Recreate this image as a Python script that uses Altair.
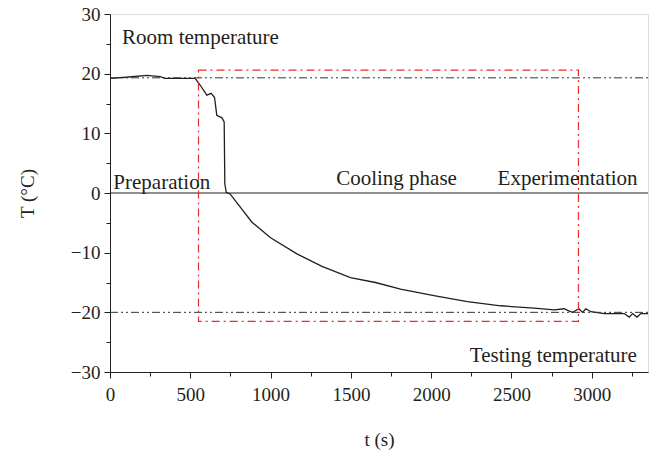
import altair as alt
import pandas as pd

# temperature curve
t_vals = [0, 100, 230, 280, 312, 343, 450, 530, 561, 603, 630, 651, 665, 697, 711, 715, 724,
          749, 884, 1000, 1164, 1320, 1497, 1653, 1809, 2017, 2225, 2433, 2641, 2765, 2828,
          2860, 2880, 2920, 2942, 2963, 2994, 3077, 3202, 3233, 3254, 3281, 3306, 3350]
T_vals = [19.2, 19.4, 19.7, 19.6, 19.5, 19.2, 19.2, 19.2, 18.1, 16.4, 16.7, 16.0, 13.0, 12.6, 11.9, 1.5, 0.1,
          -0.2, -4.9, -7.5, -10.2, -12.3, -14.2, -15.0, -16.1, -17.2, -18.2, -18.9, -19.3, -19.6, -19.4,
          -19.8, -20.0, -19.4, -20.0, -19.4, -19.9, -20.2, -20.2, -20.8, -20.2, -20.8, -20.2, -20.2]

ref_levels = [19.3, -20.0]          # room / testing temperature lines
box_t = [551, 2917]                 # red dash-dot box extent
box_T = [-21.5, 20.6]

labels = ["Room temperature", "Preparation", "Cooling phase", "Experimentation", "Testing temperature"]
label_t = [75, 21, 1784, 3285, 3281]
label_T = [25.0, 0.7, 1.4, 1.4, -28.3]
label_align = ["left", "left", "center", "right", "right"]

x_major = [0, 500, 1000, 1500, 2000, 2500, 3000]
x_minor = [250, 750, 1250, 1750, 2250, 2750, 3250]
y_major = [-30, -20, -10, 0, 10, 20, 30]
y_minor = [-25, -15, -5, 5, 15, 25]

FONT = "Liberation Serif"
INK = "#231f20"
RED = "#ee2a24"

curve_df = pd.DataFrame({"t": t_vals, "T": T_vals})
ref_df = pd.DataFrame({"T": ref_levels, "t0": [0, 0], "t1": [3350, 3350]})
zero_df = pd.DataFrame({"T": [0], "t0": [0], "t1": [3350]})
box_df = pd.DataFrame({"t0": [box_t[0]], "t1": [box_t[1]], "T0": [box_T[0]], "T1": [box_T[1]]})
lab_df = pd.DataFrame({"label": labels, "t": label_t, "T": label_T, "align": label_align})

xscale = alt.Scale(domain=[0, 3350], nice=False, zero=False)
yscale = alt.Scale(domain=[-30, 30], nice=False, zero=False)

x_axis = alt.Axis(orient="bottom", values=x_major, format="d", title="t (s)", tickSize=6, labelPadding=7,
                  labelFontSize=19, labelFont=FONT, titleFont=FONT, titleFontSize=19,
                  titleFontWeight="normal", titlePadding=26, grid=False, domainColor=INK,
                  tickColor=INK, labelColor=INK, titleColor=INK, labelFlush=False)
y_axis = alt.Axis(orient="left", values=y_major, title="T (°C)", tickSize=6, labelPadding=4,
                  labelFontSize=19, labelFont=FONT, titleFont=FONT, titleFontSize=19,
                  titleFontWeight="normal", titlePadding=33, grid=False, domainColor=INK,
                  tickColor=INK, labelColor=INK, titleColor=INK,
                  labelExpr="replace(datum.label, '-', '−')", labelFlush=False)

curve = alt.Chart(curve_df).mark_line(color=INK, strokeWidth=1.3).encode(
    x=alt.X("t:Q", scale=xscale, axis=x_axis),
    y=alt.Y("T:Q", scale=yscale, axis=y_axis),
)

minor_axes = alt.Chart(curve_df).mark_point(opacity=0).encode(
    x=alt.X("t:Q", scale=xscale, axis=alt.Axis(orient="bottom", values=x_minor, labels=False,
                                                title=None, tickSize=4, domain=False, grid=False,
                                                tickColor=INK)),
    y=alt.Y("T:Q", scale=yscale, axis=alt.Axis(orient="left", values=y_minor, labels=False,
                                                title=None, tickSize=4, domain=False, grid=False,
                                                tickColor=INK)),
)

zero_line = alt.Chart(zero_df).mark_rule(color=INK, strokeWidth=1.2).encode(
    x=alt.X("t0:Q", axis=None), x2="t1:Q", y=alt.Y("T:Q", axis=None))

ref_lines = alt.Chart(ref_df).mark_rule(color="#333333", strokeWidth=1.0,
                                         strokeDash=[8, 3, 2, 3, 2, 3]).encode(
    x=alt.X("t0:Q", axis=None), x2="t1:Q", y=alt.Y("T:Q", axis=None))

box = alt.Chart(box_df).mark_rect(fill=None, fillOpacity=0, stroke=RED, strokeWidth=1.2,
                                  strokeDash=[8, 4, 2, 4]).encode(
    x=alt.X("t0:Q", axis=None), x2="t1:Q", y=alt.Y("T0:Q", axis=None), y2="T1:Q")

texts = alt.layer(*[
    alt.Chart(lab_df[lab_df["align"] == a]).mark_text(
        font=FONT, fontSize=21, color=INK, align=a, baseline="alphabetic").encode(
        x=alt.X("t:Q", axis=None), y=alt.Y("T:Q", axis=None), text="label:N")
    for a in ["left", "center", "right"]
])

chart = alt.layer(curve, minor_axes, zero_line, ref_lines, box, texts).resolve_axis(
    x="independent", y="independent"
).properties(
    width=538, height=358,
    padding={"left": 110, "top": 14, "right": 9, "bottom": 84},
    autosize=alt.AutoSizeParams(type="none"),
).configure_view(
    stroke=INK, strokeWidth=1.2
).configure_axis(
    labelFont=FONT, titleFont=FONT
).configure(background="white", font=FONT)

chart.save("out.html", embed_options={"renderer": "svg", "actions": False})
